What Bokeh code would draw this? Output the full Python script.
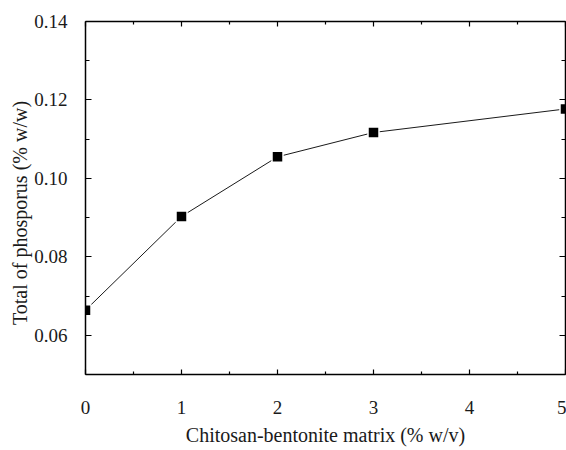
from bokeh.plotting import figure
from bokeh.models import (LinearAxis, FixedTicker, Range1d, NumeralTickFormatter,
                          CustomLabelingPolicy)
from bokeh.embed import file_html
from bokeh.resources import INLINE

# ---- data ----
matrix_pct = [0, 1, 2, 3, 5]
phosphorus = [0.0664, 0.0903, 0.1055, 0.1117, 0.1177]

x_ticks = [0, 1, 2, 3, 4, 5]
x_minor_ticks = [0.5, 1.5, 2.5, 3.5, 4.5]
y_ticks = [0.06, 0.08, 0.10, 0.12, 0.14]
y_minor_ticks = [0.05, 0.07, 0.09, 0.11, 0.13]
x_title = "Chitosan-bentonite matrix (% w/v)"
y_title = "Total of phosporus (% w/w)"

FONT = "Liberation Serif"

p = figure(width=566, height=450,
           x_range=Range1d(0, 5), y_range=Range1d(0.05, 0.14),
           output_backend="svg", toolbar_location=None,
           min_border_left=85, min_border_right=1,
           min_border_top=21, min_border_bottom=76)
p.outline_line_color = None
p.grid.visible = False
p.background_fill_color = "white"
p.border_fill_color = "white"

xt = FixedTicker(ticks=x_ticks, minor_ticks=x_minor_ticks)
yt = FixedTicker(ticks=y_ticks, minor_ticks=y_minor_ticks)

def style(ax, major_in, minor_in):
    ax.axis_line_color = "black"
    ax.axis_line_width = 1.5
    ax.major_tick_line_color = "black"
    ax.minor_tick_line_color = "black"
    ax.major_tick_line_width = 1.2
    ax.minor_tick_line_width = 1.2
    ax.major_tick_in = major_in
    ax.major_tick_out = 0
    ax.minor_tick_in = minor_in
    ax.minor_tick_out = 0
    ax.major_label_text_font = FONT
    ax.major_label_text_color = "#1a1a1a"
    ax.axis_label_text_font = FONT
    ax.axis_label_text_font_style = "normal"
    ax.axis_label_text_color = "#1a1a1a"

xa = p.xaxis[0]
xa.ticker = xt
style(xa, 5, 3)
xa.major_label_text_font_size = "19px"
xa.major_label_standoff = 26
xa.axis_label = x_title
xa.axis_label_text_font_size = "20px"
xa.axis_label_standoff = 7

ya = p.yaxis[0]
ya.ticker = yt
style(ya, 6, 4)
ya.formatter = NumeralTickFormatter(format="0.00")
ya.major_label_text_font_size = "19px"
ya.major_label_standoff = 18
# trailing no-break spaces shift the visible title slightly downward
ya.axis_label = y_title + "\u00a0" * 6
ya.axis_label_text_font_size = "20px"
ya.axis_label_standoff = 0

no_labels = CustomLabelingPolicy(code="""
try { indices.clear(); } catch (e) {
  for (const i of Array.from(indices)) indices.unset(i);
}
return indices;
""")

for loc, tk, mi, mn in (("above", xt, 5, 3), ("right", yt, 6, 4)):
    ax = LinearAxis(ticker=tk)
    style(ax, mi, mn)
    ax.major_label_policy = no_labels
    ax.major_label_standoff = 0
    ax.major_label_text_font_size = "0px"
    p.add_layout(ax, loc)

p.line(matrix_pct, phosphorus, line_color="#1a1a1a", line_width=1)
p.scatter(matrix_pct, phosphorus, marker="square", size=11,
          fill_color="black", line_color="white", line_width=1.5)

open("out.html", "w").write(file_html(p, INLINE))
